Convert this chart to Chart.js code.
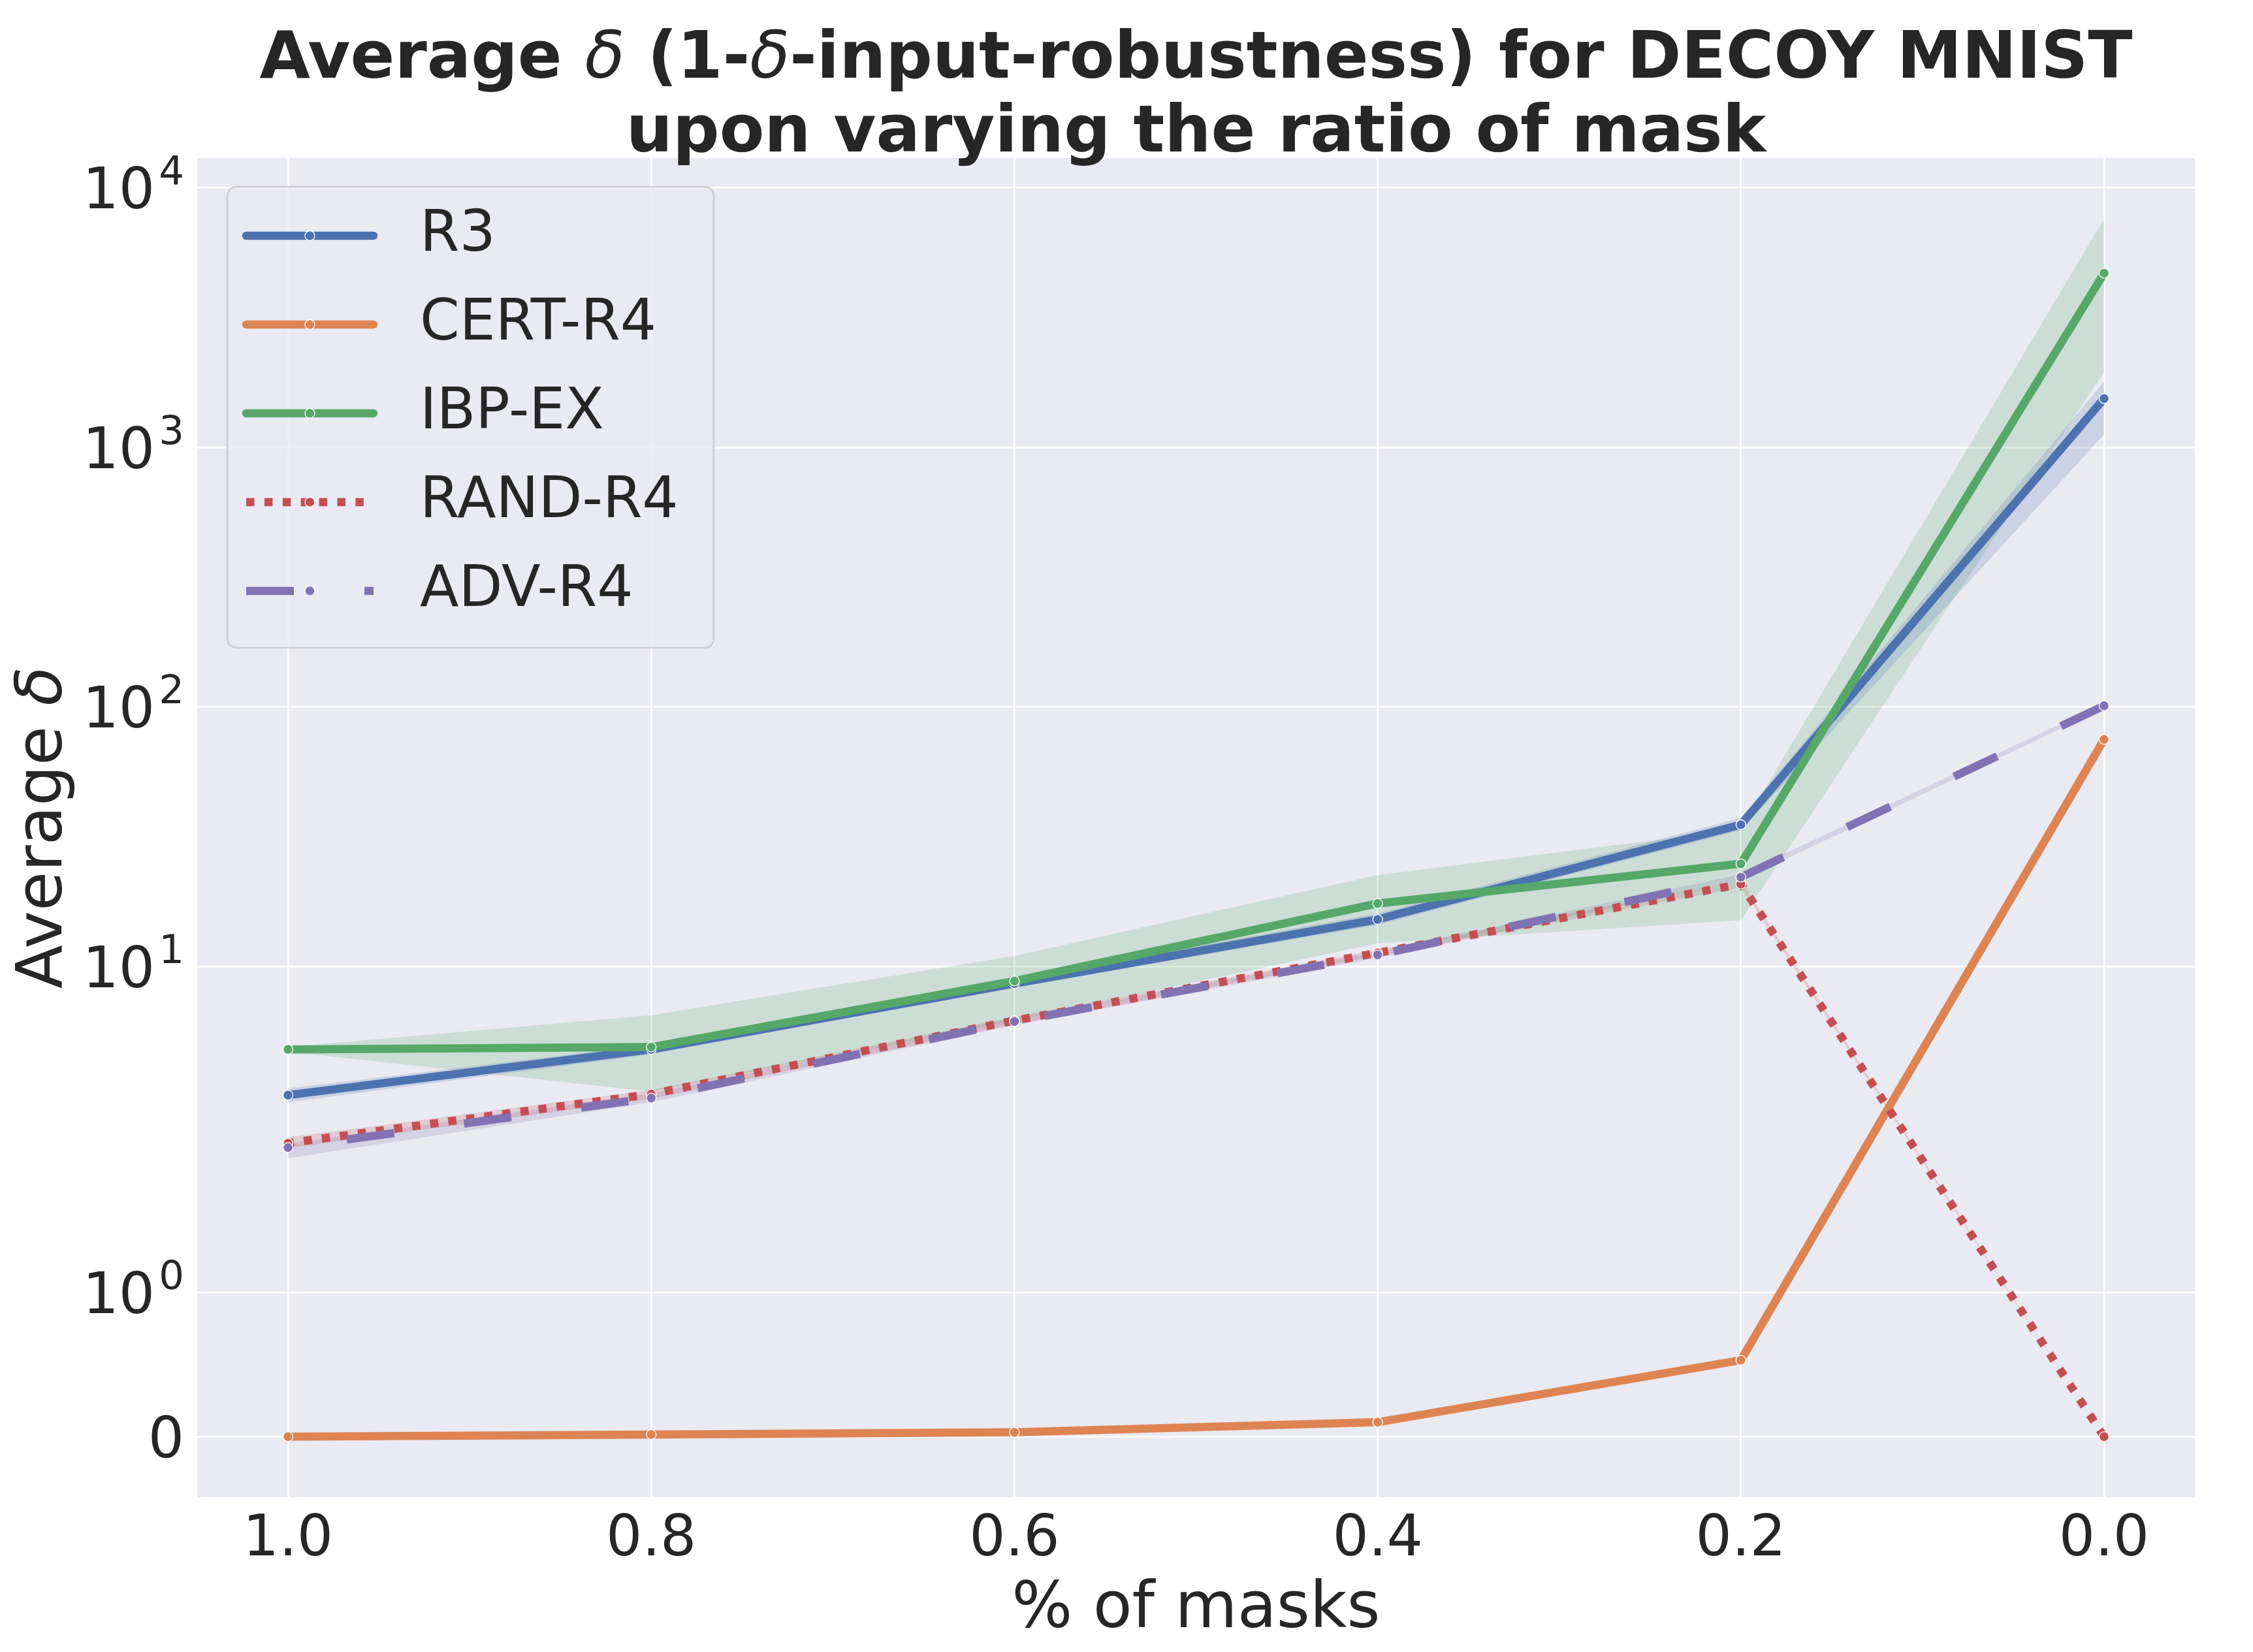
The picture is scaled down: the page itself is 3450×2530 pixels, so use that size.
<!DOCTYPE html>
<html>
<head>
<meta charset="utf-8">
<script src="https://cdn.jsdelivr.net/npm/chart.js@4.4.1/dist/chart.umd.min.js"></script>
<style>
html,body{margin:0;padding:0;background:#ffffff;}
#wrap{width:3450px;height:2530px;position:relative;}
</style>
</head>
<body>
<div id="wrap"><canvas id="c"></canvas></div>
<script>
// ---------------- data ----------------
const maskRatios = [0.0, 0.2, 0.4, 0.6, 0.8, 1.0];
const seriesNames = ['R3', 'CERT-R4', 'IBP-EX', 'RAND-R4', 'ADV-R4'];

const r3Mean  = [1540, 35.2, 15.2, 8.6, 4.8, 3.2];
const r3Low   = [1120, 33.5, 14.5, 8.3, 4.6, 3.0];
const r3High  = [1790, 37.4, 16.0, 9.0, 5.0, 3.4];

const certMean = [75, 0.53, 0.10, 0.03, 0.015, 0.0];

const ibpMean = [4680, 24.9, 17.5, 8.8, 4.9, 4.8];
const ibpLow  = [1950, 15.1, 12.3, 6.2, 3.3, 4.7];
const ibpHigh = [7590, 33.8, 22.5, 11.0, 6.5, 4.9];

const randMean = [0, 20.8, 11.3, 6.2, 3.23, 2.09];
const randLow  = [0, 20.2, 11.0, 6.0, 3.10, 2.00];
const randHigh = [0, 21.4, 11.6, 6.4, 3.35, 2.20];

const advMean = [101, 22.1, 11.1, 6.15, 3.12, 2.01];
const advLow  = [99, 21.5, 10.8, 5.95, 3.00, 1.93];
const advHigh = [103, 22.7, 11.4, 6.35, 3.25, 2.08];

const xTickValues = [1.0, 0.8, 0.6, 0.4, 0.2, 0.0];
const xTickLabels = ['1.0', '0.8', '0.6', '0.4', '0.2', '0.0'];
const yTickValues = [0, 1, 10, 100, 1000, 10000];
const yTickBases = ['0', '10', '10', '10', '10', '10'];
const yTickExponents = ['', '0', '1', '2', '3', '4'];

const xLimits = [-0.05, 1.05];
const yLimits = [-0.42, 13000];

const titleLines = ['Average \u03b4 (1-\u03b4-input-robustness) for DECOY MNIST', 'upon varying the ratio of mask'];
const xAxisTitle = '% of masks';
const yAxisTitle = 'Average \u03b4';

// ---------------- symlog scale (linthresh 2, base 10, linscale 1) ----------------
const LINTHRESH = 2;
const LINSCALE_ADJ = 1 / (1 - 1 / 10);
function symlog(v) {
  const a = Math.abs(v), s = Math.sign(v);
  return a <= LINTHRESH ? v * LINSCALE_ADJ : s * LINTHRESH * (LINSCALE_ADJ + Math.log10(a / LINTHRESH));
}
function symexp(t) {
  const a = Math.abs(t), s = Math.sign(t);
  return a <= LINTHRESH * LINSCALE_ADJ ? t / LINSCALE_ADJ : s * LINTHRESH * Math.pow(10, a / LINTHRESH - LINSCALE_ADJ);
}
class SymlogScale extends Chart.LinearScale {
  buildTicks() { return yTickValues.map(v => ({ value: v })); }
  configure() {
    super.configure();
    this._tMin = symlog(this.min);
    this._tMax = symlog(this.max);
  }
  getPixelForValue(value) {
    return this.getPixelForDecimal((symlog(value) - this._tMin) / (this._tMax - this._tMin));
  }
  getValueForPixel(pixel) {
    return symexp(this._tMin + this.getDecimalForPixel(pixel) * (this._tMax - this._tMin));
  }
}
SymlogScale.id = 'symlog';
SymlogScale.defaults = {};
Chart.register(SymlogScale);

// ---------------- styling ----------------
const FONT = 'DejaVu Sans';
const TEXT = '#262626';
const COLORS = { blue: '#4C72B0', orange: '#DD8452', green: '#55A868', red: '#C44E52', purple: '#8172B3' };
const RGB = { blue: '76,114,176', green: '85,168,104', red: '196,78,82', purple: '129,114,179' };
const LW = 12.5;

const toPts = arr => maskRatios.map((x, i) => ({ x: x, y: arr[i] }));

function bandSets(low, high, rgb) {
  return [
    { label: '_band_hi', data: toPts(high), borderWidth: 0, pointRadius: 0, fill: '+1',
      backgroundColor: 'rgba(' + rgb + ',0.2)', order: 10, isBand: true },
    { label: '_band_lo', data: toPts(low), borderWidth: 0, pointRadius: 0, fill: false,
      backgroundColor: 'rgba(0,0,0,0)', order: 10, isBand: true }
  ];
}
function lineSet(name, values, color, order, dash) {
  return {
    label: name, data: toPts(values), borderColor: color, backgroundColor: color,
    borderWidth: LW, borderDash: dash || [], borderCapStyle: dash ? 'butt' : 'round',
    borderJoinStyle: 'round', pointRadius: 7.5, pointHoverRadius: 7.5,
    pointBackgroundColor: color, pointBorderColor: '#ffffff', pointBorderWidth: 1.3,
    fill: false, tension: 0, order: order, isSeries: true
  };
}

const datasets = [
  lineSet(seriesNames[0], r3Mean, COLORS.blue, 5),
  lineSet(seriesNames[1], certMean, COLORS.orange, 4),
  lineSet(seriesNames[2], ibpMean, COLORS.green, 3),
  lineSet(seriesNames[3], randMean, COLORS.red, 2, [LW, 15.4]),
  lineSet(seriesNames[4], advMean, COLORS.purple, 1, [73, 108]),
  ...bandSets(r3Low, r3High, RGB.blue),
  ...bandSets(ibpLow, ibpHigh, RGB.green),
  ...bandSets(randLow, randHigh, RGB.red),
  ...bandSets(advLow, advHigh, RGB.purple)
];

// ---------------- helpers for mixed-style text (italic delta) ----------------
function splitDelta(str) {
  const parts = [];
  let cur = '';
  for (const ch of str) {
    if (ch === '\u03b4') { if (cur) parts.push({ t: cur, it: false }); parts.push({ t: ch, it: true }); cur = ''; }
    else cur += ch;
  }
  if (cur) parts.push({ t: cur, it: false });
  return parts;
}
function drawRich(ctx, str, cx, baseline, normalFont, italicFont) {
  const parts = splitDelta(str);
  let total = 0;
  parts.forEach(p => { ctx.font = p.it ? italicFont : normalFont; p.w = ctx.measureText(p.t).width; total += p.w; });
  let x = cx - total / 2;
  parts.forEach(p => { ctx.font = p.it ? italicFont : normalFont; ctx.fillText(p.t, x, baseline); x += p.w; });
}

// ---------------- plugins ----------------
const backgroundPlugin = {
  id: 'plotBackground',
  beforeDraw(chart) {
    const { ctx, chartArea: a } = chart;
    ctx.save();
    ctx.fillStyle = '#ffffff';
    ctx.fillRect(0, 0, chart.width, chart.height);
    ctx.fillStyle = '#EAEAF2';
    ctx.fillRect(a.left, a.top, a.right - a.left, a.bottom - a.top);
    ctx.restore();
  }
};

const legendPlugin = {
  id: 'boxLegend',
  afterDatasetsDraw(chart) {
    const { ctx, chartArea: a } = chart;
    const x0 = a.left + 46, y0 = a.top + 44, w = 745, h = 706, r = 14;
    ctx.save();
    ctx.beginPath();
    ctx.moveTo(x0 + r, y0);
    ctx.arcTo(x0 + w, y0, x0 + w, y0 + h, r);
    ctx.arcTo(x0 + w, y0 + h, x0, y0 + h, r);
    ctx.arcTo(x0, y0 + h, x0, y0, r);
    ctx.arcTo(x0, y0, x0 + w, y0, r);
    ctx.closePath();
    ctx.fillStyle = 'rgba(234,234,242,0.8)';
    ctx.fill();
    ctx.lineWidth = 2.5;
    ctx.strokeStyle = '#cccccc';
    ctx.stroke();

    const series = chart.data.datasets.filter(d => d.isSeries);
    series.forEach((ds, i) => {
      const y = y0 + 75 + i * 136;
      const lx0 = x0 + 29, lx1 = x0 + 224, mx = (lx0 + lx1) / 2;
      ctx.beginPath();
      ctx.setLineDash(ds.borderDash || []);
      ctx.lineCap = ds.borderCapStyle;
      ctx.lineWidth = ds.borderWidth;
      ctx.strokeStyle = ds.borderColor;
      ctx.moveTo(lx0, y);
      ctx.lineTo(lx1, y);
      ctx.stroke();
      ctx.setLineDash([]);
      ctx.beginPath();
      ctx.arc(mx, y, 7.5, 0, Math.PI * 2);
      ctx.fillStyle = ds.borderColor;
      ctx.fill();
      ctx.lineWidth = 1.3;
      ctx.strokeStyle = '#ffffff';
      ctx.stroke();
      ctx.fillStyle = TEXT;
      ctx.font = '87px "' + FONT + '"';
      ctx.textAlign = 'left';
      ctx.textBaseline = 'middle';
      ctx.fillText(ds.label, x0 + 295, y);
    });
    ctx.restore();
  }
};

const textPlugin = {
  id: 'richText',
  afterDraw(chart) {
    const { ctx, chartArea: a } = chart;
    const ys = chart.scales.y;
    ctx.save();
    ctx.fillStyle = TEXT;
    ctx.textAlign = 'left';
    ctx.textBaseline = 'alphabetic';

    // title (bold, with italic delta)
    const cx = (a.left + a.right) / 2;
    drawRich(ctx, titleLines[0], cx, 119, 'bold 100px "' + FONT + '"', 'italic 100px "' + FONT + '"');
    drawRich(ctx, titleLines[1], cx, 232, 'bold 100px "' + FONT + '"', 'italic 100px "' + FONT + '"');

    // y axis title (rotated)
    ctx.save();
    ctx.translate(94, (a.top + a.bottom) / 2);
    ctx.rotate(-Math.PI / 2);
    drawRich(ctx, yAxisTitle, 0, 0, '98px "' + FONT + '"', 'italic 98px "' + FONT + '"');
    ctx.restore();

    // y tick labels with superscript exponents
    const right = a.left - 20;
    yTickValues.forEach((v, i) => {
      const py = ys.getPixelForValue(v);
      const base = yTickBases[i], exp = yTickExponents[i];
      ctx.font = '87px "' + FONT + '"';
      const bw = ctx.measureText(base).width;
      ctx.font = '61px "' + FONT + '"';
      const ew = exp ? ctx.measureText(exp).width + 6 : 0;
      const baseline = py + 0.3645 * 87;
      ctx.font = '87px "' + FONT + '"';
      ctx.fillText(base, right - ew - bw, baseline);
      if (exp) {
        ctx.font = '61px "' + FONT + '"';
        ctx.fillText(exp, right - ew + 6, baseline - 37);
      }
    });
    ctx.restore();
  }
};

// ---------------- chart ----------------
Chart.defaults.font.family = FONT;
Chart.defaults.color = TEXT;

new Chart(document.getElementById('c'), {
  type: 'line',
  data: { datasets: datasets },
  plugins: [backgroundPlugin, legendPlugin, textPlugin],
  options: {
    responsive: true,
    maintainAspectRatio: false,
    devicePixelRatio: 1,
    animation: false,
    events: [],
    layout: { padding: { left: 0, right: 89, top: 242, bottom: 0 } },
    plugins: {
      legend: { display: false },
      tooltip: { enabled: false },
      title: { display: false }
    },
    scales: {
      x: {
        type: 'linear',
        reverse: true,
        min: xLimits[0],
        max: xLimits[1],
        bounds: 'data',
        afterBuildTicks: axis => { axis.ticks = xTickValues.map(v => ({ value: v })); },
        afterFit: axis => { axis.height = 237; },
        grid: { color: '#ffffff', lineWidth: 2.8, drawTicks: false },
        border: { display: false },
        ticks: {
          padding: 14, autoSkip: false, maxRotation: 0, color: TEXT,
          font: { family: FONT, size: 87 },
          callback: v => xTickLabels[xTickValues.indexOf(v)]
        },
        title: {
          display: true, text: xAxisTitle, color: TEXT,
          font: { family: FONT, size: 98, lineHeight: 1.2 },
          padding: { top: 0, bottom: 5 }
        }
      },
      y: {
        type: 'symlog',
        min: yLimits[0],
        max: yLimits[1],
        afterFit: axis => { axis.width = 302; },
        grid: { color: '#ffffff', lineWidth: 2.8, drawTicks: false },
        border: { display: false },
        ticks: { display: false },
        title: { display: false, text: yAxisTitle }
      }
    }
  }
});
</script>
</body>
</html>
